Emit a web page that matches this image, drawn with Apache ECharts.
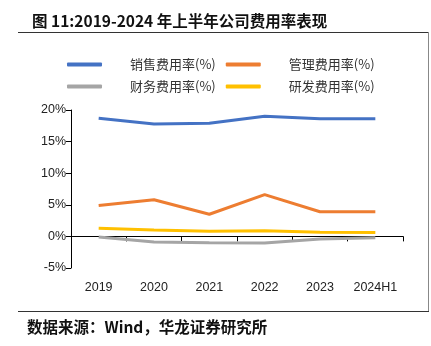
<!DOCTYPE html>
<html><head><meta charset="utf-8">
<script src="https://cdn.jsdelivr.net/npm/echarts@6/dist/echarts.min.js"></script>
<style>html,body{margin:0;padding:0;background:#fff}#c{width:431px;height:346px}</style>
</head><body><div id="c"></div>
<script>
const categories = ['2019','2020','2021','2022','2023','2024H1'];
const seriesNames = ['销售费用率(%)','管理费用率(%)','财务费用率(%)','研发费用率(%)'];
const salesRate = [18.7, 17.8, 17.9, 19.0, 18.6, 18.6];
const adminRate = [4.9, 5.8, 3.5, 6.6, 3.9, 3.9];
const financeRate = [-0.1, -0.9, -1.0, -1.05, -0.4, -0.2];
const rdRate = [1.3, 1.0, 0.8, 0.9, 0.65, 0.6];
const yTicks = [-5, 0, 5, 10, 15, 20];
const colors = ['#4472C4','#ED7D31','#A5A5A5','#FFC000'];
const values = [salesRate, adminRate, financeRate, rdRate];

const chart = echarts.init(document.getElementById('c'));
const legendText = {fontFamily:'Noto Sans CJK SC', fontSize:13, color:'#333', padding:[0,0,0,23], width:95};
chart.setOption({
  animation:false,
  title:{text:'图 11:2019-2024 年上半年公司费用率表现', left:27, top:8,
    textStyle:{fontFamily:'Noto Sans CJK SC', fontWeight:'bold', fontSize:15.5, color:'#111'}},
  legend:[
    {data:[seriesNames[0],seriesNames[1]], left:62, top:53, itemWidth:35, itemHeight:4, itemGap:10, icon:'roundRect', textStyle:legendText},
    {data:[seriesNames[2],seriesNames[3]], left:62, top:75, itemWidth:35, itemHeight:4, itemGap:10, icon:'roundRect', textStyle:legendText}
  ],
  grid:{left:71, right:28, top:110, bottom:78},
  xAxis:[
    {type:'category', data:categories, boundaryGap:true,
     axisLine:{onZero:true, lineStyle:{color:'#000', width:1}},
     axisTick:{show:true, length:5, interval:0, lineStyle:{color:'#000'}},
     axisLabel:{show:false}},
    {type:'category', data:categories, boundaryGap:true, position:'bottom',
     axisLine:{show:false}, axisTick:{show:false},
     axisLabel:{interval:0, margin:13, fontFamily:'Liberation Sans', fontSize:12.5, color:'#222'}}
  ],
  yAxis:{type:'value', min:yTicks[0], max:yTicks[yTicks.length-1], interval:5,
    splitLine:{show:false},
    axisLine:{show:true, lineStyle:{color:'#000'}},
    axisTick:{show:true, length:5, lineStyle:{color:'#000'}},
    axisLabel:{formatter:v=>v+'%', margin:5, fontFamily:'Liberation Sans', fontSize:12.5, color:'#222'}},
  graphic:[
    {type:'line', shape:{x1:18,y1:32.5,x2:428,y2:32.5}, style:{stroke:'#333', lineWidth:1}},
    {type:'line', shape:{x1:428.5,y1:32,x2:428.5,y2:311}, style:{stroke:'#888', lineWidth:1}},
    {type:'line', shape:{x1:18,y1:311.5,x2:429,y2:311.5}, style:{stroke:'#333', lineWidth:1}},
    {type:'text', left:27, top:319, style:{text:'数据来源：Wind，华龙证券研究所', font:'bold 15.5px "Noto Sans CJK SC"', fill:'#111'}}
  ],
  series: seriesNames.map((n,i)=>({
    name:n, type:'line', data:values[i], xAxisIndex:0, symbol:'none',
    lineStyle:{width:3, color:colors[i]}, itemStyle:{color:colors[i]}, z: i===2?1:2
  }))
});
</script></body></html>
